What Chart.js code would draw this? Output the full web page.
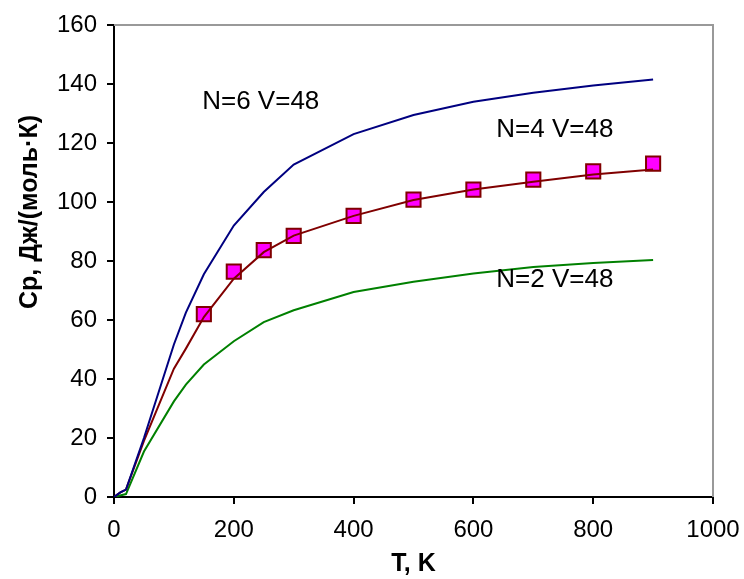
<!DOCTYPE html>
<html>
<head>
<meta charset="utf-8">
<script src="https://cdn.jsdelivr.net/npm/chart.js@4/dist/chart.umd.min.js"></script>
<style>
    html, body { margin: 0; padding: 0; background: #fff; }
    #wrap { position: relative; width: 744px; height: 579px; }
</style>
</head>
<body>
<div id="wrap"><canvas id="cp-chart"></canvas></div>
<script>(function() { "use strict";

    // temperature points of the calculated curves, K
    var temps = [0, 10, 20, 50, 100, 120, 150, 200, 250, 300, 400, 500, 600, 700, 800, 900];

    // calculated Cp, J/(mol*K)
    var cp_n6 = [0, 1.5, 2.5, 20, 51.7, 62.5, 75.5, 92, 103.4, 112.7, 123, 129.5, 134, 137, 139.5, 141.5];
    var cp_n4 = [0, 1.5, 2.5, 19, 43.5, 50.3, 61, 74, 83, 88.6, 95.3, 100.7, 104.2, 106.9, 109.3, 111];
    var cp_n2 = [0, 0.5, 1, 15.4, 32.4, 38.1, 44.9, 52.8, 59.3, 63.3, 69.5, 73, 75.8, 78, 79.3, 80.3];

    // experimental points
    var exp_temps = [150, 200, 250, 300, 400, 500, 600, 700, 800, 900];
    var exp_cp = [62, 76.4, 83.7, 88.5, 95.3, 100.8, 104.2, 107.6, 110.4, 113];

    // curve captions: text, T, Cp
    var caption_text = ['N=6 V=48', 'N=4 V=48', 'N=2 V=48'];
    var caption_t = [245, 736, 736];
    var caption_cp = [134, 124.5, 73.5];

    var x_title = 'T, K';
    var y_title = 'Cp, Дж/(моль·К)';

    function toPoints(xs, ys) {
        return xs.map(function(x, i) { return { x: x, y: ys[i] }; });
    }

    var font_family = '"Liberation Sans", Arial, sans-serif';

    var extrasPlugin = {
        id: 'extras',
        afterDraw: function(chart) {
            var ctx = chart.ctx,
                area = chart.chartArea,
                xs = chart.scales.x,
                ys = chart.scales.y;
            ctx.save();
            // grey frame on top and right
            ctx.strokeStyle = '#999';
            ctx.lineWidth = 2;
            ctx.beginPath();
            ctx.moveTo(area.left, area.top);
            ctx.lineTo(area.right, area.top);
            ctx.lineTo(area.right, area.bottom);
            ctx.stroke();

            ctx.fillStyle = '#000';
            ctx.font = '26px ' + font_family;
            ctx.textAlign = 'center';
            ctx.textBaseline = 'middle';
            caption_text.forEach(function(t, i) {
                ctx.fillText(t, xs.getPixelForValue(caption_t[i]), ys.getPixelForValue(caption_cp[i]));
            });

            // y axis title
            ctx.font = 'bold 25px ' + font_family;
            ctx.translate(30, 212);
            ctx.rotate(-Math.PI / 2);
            ctx.fillText(y_title, 0, 0);
            ctx.restore();
        }
    };

    var cp_chart = new Chart(document.getElementById('cp-chart'), {
        type: 'line',
        data: {
            datasets: [{
                label: 'N=6',
                data: toPoints(temps, cp_n6),
                borderColor: '#000080',
                borderWidth: 2,
                pointRadius: 0,
                tension: 0
            }, {
                label: 'N=4',
                data: toPoints(temps, cp_n4),
                borderColor: '#800000',
                borderWidth: 2,
                pointRadius: 0,
                tension: 0
            }, {
                label: 'N=2',
                data: toPoints(temps, cp_n2),
                borderColor: '#008000',
                borderWidth: 2,
                pointRadius: 0,
                tension: 0
            }, {
                label: 'exp',
                data: toPoints(exp_temps, exp_cp),
                showLine: false,
                pointStyle: 'rect',
                pointRadius: 10,
                pointBackgroundColor: '#FF00FF',
                pointBorderColor: '#800000',
                pointBorderWidth: 2
            }]
        },
        options: {
            responsive: true,
            maintainAspectRatio: false,
            animation: false,
            layout: {
                padding: { left: 0, right: 31, top: 25, bottom: 0 }
            },
            plugins: {
                legend: { display: false },
                tooltip: { enabled: false }
            },
            scales: {
                x: {
                    type: 'linear',
                    min: 0,
                    max: 1000,
                    ticks: {
                        stepSize: 200,
                        color: '#000',
                        padding: 12,
                        maxRotation: 0,
                        font: { size: 24, family: font_family },
                        callback: function(v) { return String(v); }
                    },
                    grid: {
                        display: true,
                        drawOnChartArea: false,
                        drawTicks: true,
                        tickLength: 7,
                        color: '#000',
                        lineWidth: 2
                    },
                    border: { color: '#000', width: 2 },
                    title: {
                        display: true,
                        text: x_title,
                        color: '#000',
                        padding: { top: 0, bottom: 0 },
                        font: { size: 25, weight: 'bold', family: font_family }
                    },
                    afterFit: function(scale) {
                        scale.height = 82;
                        scale.paddingLeft = 0;
                        scale.paddingRight = 0;
                    }
                },
                y: {
                    min: 0,
                    max: 160,
                    ticks: {
                        stepSize: 20,
                        color: '#000',
                        padding: 10,
                        font: { size: 24, family: font_family }
                    },
                    grid: {
                        display: true,
                        drawOnChartArea: false,
                        drawTicks: true,
                        tickLength: 7,
                        color: '#000',
                        lineWidth: 2
                    },
                    border: { color: '#000', width: 2 },
                    afterFit: function(scale) {
                        scale.width = 114;
                        scale.paddingTop = 0;
                        scale.paddingBottom = 0;
                    }
                }
            }
        },
        plugins: [extrasPlugin]
    });

})();</script>
</body>
</html>
